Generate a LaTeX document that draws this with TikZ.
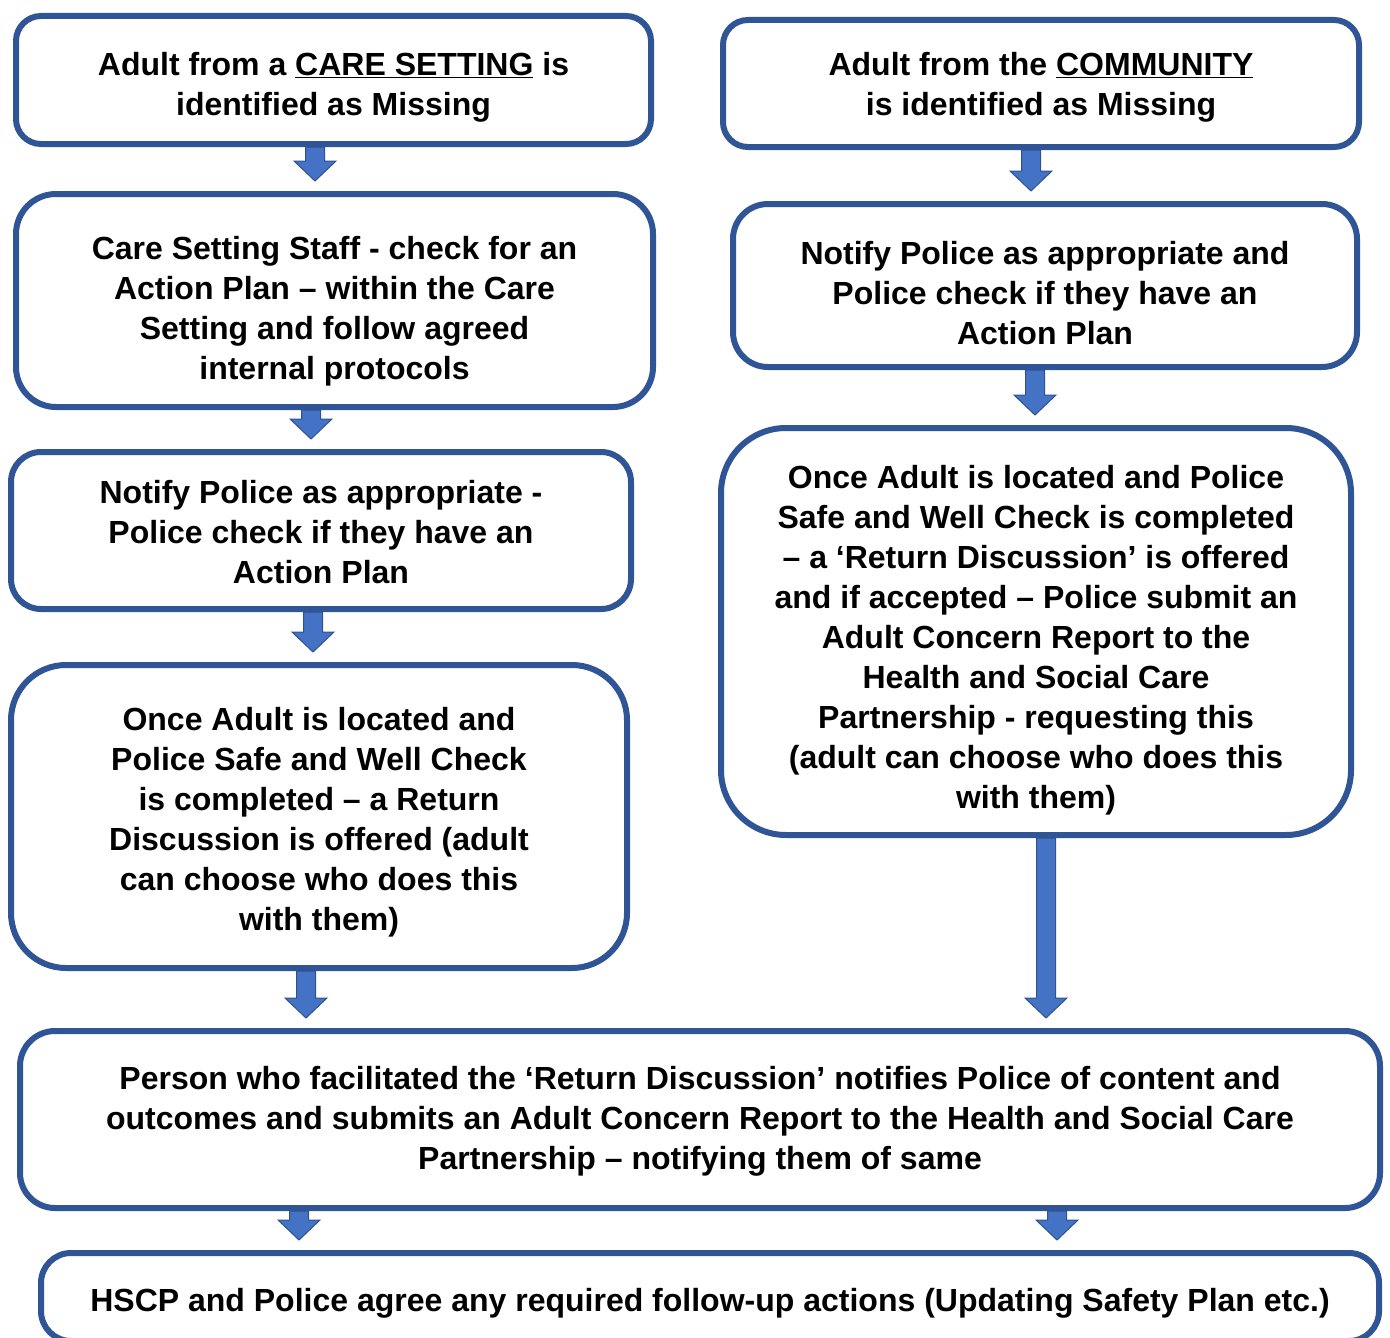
\documentclass[tikz,border=0pt]{standalone}
\usepackage{fontspec}
\setmainfont{Liberation Sans}
\usetikzlibrary{calc,positioning}
\definecolor{boxblue}{RGB}{47,85,151}
\definecolor{arrowblue}{RGB}{68,114,196}
\definecolor{arrowedge}{RGB}{47,82,143}
\tikzset{
  flowbox/.style={draw=boxblue,line width=6pt,rounded corners=#1,align=center,
    inner sep=0pt,font=\bfseries\fontsize{32}{40}\selectfont},
  flowbox/.default=30pt,
  arrowbox/.style={fill=arrowblue,draw=arrowedge,line width=1pt,line join=miter}
}
% strut on first line, pushes the text down
\newcommand{\tstrut}[1]{\rule{0pt}{#1}}
% block arrow from box to box
\newcommand{\blockdown}[2]{%
  \filldraw[arrowbox] let \p1=(#1), \p2=(#2) in
    (\x1-9.5pt,\y1) -- (\x1+9.5pt,\y1) -- (\x1+9.5pt,\y2+30pt) -- (\x1+21pt,\y2+30pt)
    -- (\x1,\y2+10pt) -- (\x1-21pt,\y2+30pt) -- (\x1-9.5pt,\y2+30pt) -- cycle;}

\begin{document}
\begin{tikzpicture}[x=1pt,y=-1pt]
\useasboundingbox (0,0) rectangle (1390,1338);
\clip (0,0) rectangle (1390,1338);
% left column
\node[flowbox=25pt,minimum width=635pt,minimum height=128pt] (care) at (333.5,80)
  {\tstrut{38pt}Adult from a \underline{CARE SETTING} is\\identified as Missing};
\node[flowbox=40pt,minimum width=637pt,minimum height=213pt] (staff) at (334.5,300.5)
  {\tstrut{45pt}Care Setting Staff - check for an\\Action Plan – within the Care\\Setting and follow agreed\\internal protocols};
\node[flowbox,minimum width=620pt,minimum height=157pt] (notifyl) at (321,530.5)
  {\tstrut{27pt}Notify Police as appropriate -\\Police check if they have an\\Action Plan};
\node[flowbox=55pt,minimum width=616pt,minimum height=303pt] (locatedl) at (319,816.5)
  {\tstrut{35pt}Once Adult is located and\\Police Safe and Well Check\\is completed – a Return\\Discussion is offered (adult\\can choose who does this\\with them)};
% right column
\node[flowbox=25pt,minimum width=636pt,minimum height=127pt] (community) at (1041,83.5)
  {\tstrut{31pt}Adult from the \underline{COMMUNITY}\\is identified as Missing};
\node[flowbox=35pt,minimum width=624pt,minimum height=163pt] (notifyr) at (1045,285.5)
  {\tstrut{38pt}Notify Police as appropriate and\\Police check if they have an\\Action Plan};
\node[flowbox=65pt,minimum width=630pt,minimum height=407pt] (locatedr) at (1036,631.5)
  {\tstrut{41pt}Once Adult is located and Police\\Safe and Well Check is completed\\– a ‘Return Discussion’ is offered\\and if accepted – Police submit an\\Adult Concern Report to the\\Health and Social Care\\Partnership - requesting this\\(adult can choose who does this\\with them)};
% bottom
\node[flowbox=35pt,minimum width=1360pt,minimum height=177pt] (facilitator) at (700,1119.5)
  {\tstrut{27pt}Person who facilitated the ‘Return Discussion’ notifies Police of content and\\outcomes and submits an Adult Concern Report to the Health and Social Care\\Partnership – notifying them of same};
\node[flowbox,minimum width=1338pt,minimum height=88pt] (hscp) at (710,1297)
  {\tstrut{35pt}HSCP and Police agree any required follow-up actions (Updating Safety Plan etc.)};

\blockdown{315,0 |- care.south}{315,0 |- staff.north}
\blockdown{311,0 |- staff.south}{311,0 |- notifyl.north}
\blockdown{313,0 |- notifyl.south}{313,0 |- locatedl.north}
\blockdown{306,0 |- locatedl.south}{306,0 |- facilitator.north}
\blockdown{1031,0 |- community.south}{1031,0 |- notifyr.north}
\blockdown{1035,0 |- notifyr.south}{1035,0 |- locatedr.north}
\blockdown{1046,0 |- locatedr.south}{1046,0 |- facilitator.north}
\blockdown{299,0 |- facilitator.south}{299,0 |- hscp.north}
\blockdown{1057,0 |- facilitator.south}{1057,0 |- hscp.north}
\end{tikzpicture}
\end{document}
